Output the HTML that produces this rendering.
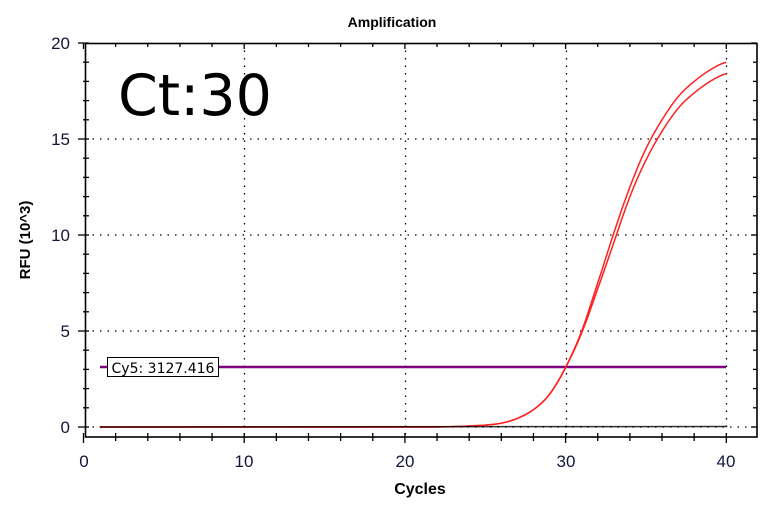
<!DOCTYPE html>
<html><head><meta charset="utf-8"><style>
html,body{margin:0;padding:0;background:#fff;width:784px;height:515px;overflow:hidden}
svg{display:block}
text{font-family:"Liberation Sans",sans-serif}
</style></head><body>
<svg id="s" width="784" height="515" viewBox="0 0 784 515" xmlns="http://www.w3.org/2000/svg">
<text x="392" y="27" font-size="14" font-weight="bold" text-anchor="middle" fill="#000">Amplification</text>
<g stroke="#000" stroke-width="1.3" stroke-dasharray="1.5,6" fill="none">
<line x1="244.5" y1="43" x2="244.5" y2="437"/>
<line x1="405.5" y1="43" x2="405.5" y2="437"/>
<line x1="566.5" y1="43" x2="566.5" y2="437"/>
<line x1="726.5" y1="43" x2="726.5" y2="437"/>
<line x1="85" y1="139" x2="757" y2="139"/>
<line x1="85" y1="235" x2="757" y2="235"/>
<line x1="85" y1="331" x2="757" y2="331"/>
<line x1="85" y1="427" x2="757" y2="427"/>
</g>
<g id="ticks" stroke="#000" stroke-width="1.3"></g>
<rect x="85.5" y="43.5" width="671.5" height="393.5" fill="none" stroke="#000" stroke-width="1.6"/>
<g font-size="17" fill="#14143c" text-anchor="end">
<text x="70" y="49">20</text><text x="70" y="145">15</text><text x="70" y="241">10</text><text x="70" y="337">5</text><text x="70" y="433">0</text>
</g>
<g font-size="17" fill="#14143c" text-anchor="middle">
<text x="84" y="467">0</text><text x="244" y="467">10</text><text x="405" y="467">20</text><text x="566" y="467">30</text><text x="726" y="467">40</text>
</g>
<text x="420" y="494" font-size="16" font-weight="bold" text-anchor="middle">Cycles</text>
<text transform="translate(30,240) rotate(-90)" font-size="15" font-weight="bold" text-anchor="middle">RFU (10^3)</text>
<text x="118" y="115" style="font-family:'DejaVu Sans',sans-serif;font-size:57px" fill="#000">Ct:30</text>
<line x1="100" y1="367" x2="726" y2="367" stroke="#800080" stroke-width="2.5"/>
<path id="c1" fill="none" stroke="#ff2020" stroke-width="1.5"/>
<path id="c2" fill="none" stroke="#ff2020" stroke-width="1.5"/>
<line x1="100" y1="427" x2="726" y2="426.5" stroke="#000" stroke-width="1.5" opacity="0.8"/>
<rect x="107.5" y="357.5" width="111" height="19" fill="#fff" stroke="#000" stroke-width="1"/>
<text x="163" y="373" style="font-family:'DejaVu Sans',sans-serif;font-size:14px" text-anchor="middle">Cy5: 3127.416</text>
</svg>
<script>
var X=function(c){return 83.5+c*16.07},Y=function(v){return 427-v*19.2};
var A=[0,0,0,0,0,0,0,0,0,0,0,0,0,0,0,0,0,0,0,0,0,0,0,0.02,0.05,0.1,0.2,0.45,0.9,1.7,3.1,5.0,7.5,10.1,12.5,14.5,16.0,17.2,18.0,18.6,19.0];
var B=[0,0,0,0,0,0,0,0,0,0,0,0,0,0,0,0,0,0,0,0,0,0,0,0.02,0.05,0.1,0.2,0.45,0.9,1.7,3.1,4.9,7.2,9.6,12.0,13.9,15.4,16.6,17.4,18.0,18.4];
function curve(id,a){var d="";for(var c=1;c<=40;c+=0.25){var i=Math.floor(c),t=c-i;var p0=a[Math.max(i-1,0)],p1=a[i],p2=a[Math.min(i+1,40)],p3=a[Math.min(i+2,40)];
var v=0.5*((2*p1)+(-p0+p2)*t+(2*p0-5*p1+4*p2-p3)*t*t+(-p0+3*p1-3*p2+p3)*t*t*t);
d+=(d?"L":"M")+X(c).toFixed(1)+","+Y(v).toFixed(1);}document.getElementById(id).setAttribute("d",d);}
curve("c1",A);curve("c2",B);
var g=document.getElementById("ticks"),h="";
for(var i=0;i<=20;i++){var y=Y(i);if(i%5==0)h+='<line x1="78" y1="'+y+'" x2="89" y2="'+y+'"/><line x1="751" y1="'+y+'" x2="757" y2="'+y+'"/>';else h+='<line x1="83" y1="'+y+'" x2="89" y2="'+y+'"/><line x1="753" y1="'+y+'" x2="757" y2="'+y+'"/>';}
for(var c=0;c<=42;c+=2){var x=X(c);if(x>757)break;h+='<line x1="'+x+'" y1="433" x2="'+x+'" y2="'+(c%10==0?443:441)+'"/><line x1="'+x+'" y1="43" x2="'+x+'" y2="'+(c%10==0?49:47)+'"/>';}
g.innerHTML=h;
</script>
</body></html>
